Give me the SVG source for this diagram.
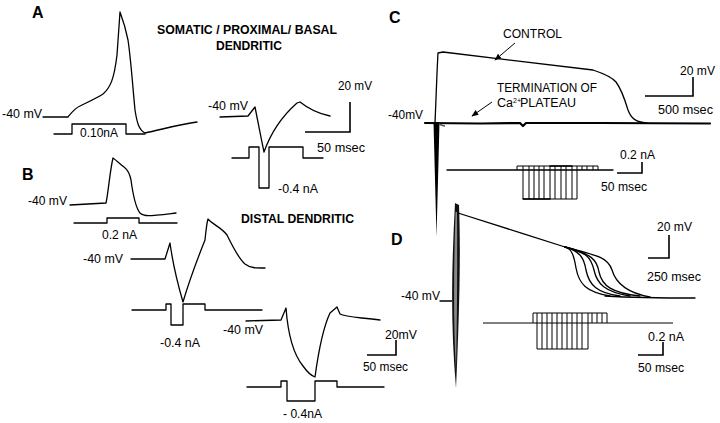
<svg xmlns="http://www.w3.org/2000/svg" width="720" height="423" viewBox="0 0 720 423">
<defs>
<style>
.t{font-family:"Liberation Sans",Arial,sans-serif;font-size:12.5px;fill:#000}
.b{font-weight:bold}
.L{font-size:16px;font-weight:bold}
.tr{fill:none;stroke:#000;stroke-width:1.3;stroke-linejoin:round;stroke-linecap:round}
.sc{fill:none;stroke:#000;stroke-width:1.6}
.th{stroke-width:2.2}
.pr{fill:none;stroke:#000;stroke-width:1}
</style>
<marker id="ah" viewBox="0 0 10 10" refX="9" refY="5" markerWidth="7" markerHeight="7" orient="auto"><path d="M0,1 L10,5 L0,9 Z" fill="#000"/></marker>
</defs>
<rect width="720" height="423" fill="#fff"/>

<g id="titles">
<text class="t L" x="32" y="18">A</text>
<text class="t L" x="22" y="180">B</text>
<text class="t L" x="389" y="23">C</text>
<text class="t L" x="391" y="245">D</text>
<text class="t b" x="157" y="34" textLength="180" lengthAdjust="spacingAndGlyphs">SOMATIC / PROXIMAL/ BASAL</text>
<text class="t b" x="216" y="50" textLength="66" lengthAdjust="spacingAndGlyphs">DENDRITIC</text>
<text class="t b" x="241" y="223" textLength="113" lengthAdjust="spacingAndGlyphs">DISTAL DENDRITIC</text>
</g>

<g id="panelA1">
<text class="t" x="2" y="118" textLength="40" lengthAdjust="spacingAndGlyphs">-40 mV</text>
<path class="tr" d="M43,117 L68,117 C72,112 75,108 80,106 C88,102 97,98 103,94 C110,88 114,80 117,55 L120,12 C123,20 126,30 128,40 C131,60 133,90 135,110 C137,123 139,130 145,133 C160,130 180,124 197,122"/>
<path class="tr" d="M54,134 L72,134 L72,124 L126,124 L126,134 L145,134"/>
<text class="t" x="80" y="137" textLength="38" lengthAdjust="spacingAndGlyphs">0.10nA</text>
</g>

<g id="panelA2">
<text class="t" x="208" y="110" textLength="40" lengthAdjust="spacingAndGlyphs">-40 mV</text>
<path class="tr" d="M220,117 L248,116 L255,107 C258,122 261,138 264,152 C270,135 280,118 297,103 L300,102 C310,110 320,114 330,116"/>
<path class="tr" d="M232,158 L249,158 L249,147 L259,147 L259,188 L269,188 L269,147 L303,147 L303,158 L323,158"/>
<text class="t" x="278" y="193" textLength="40" lengthAdjust="spacingAndGlyphs">-0.4 nA</text>
<path class="sc" d="M305,132 L350,132 L350,102"/>
<text class="t" x="338" y="90" textLength="34" lengthAdjust="spacingAndGlyphs">20 mV</text>
<text class="t" x="317" y="152" textLength="48" lengthAdjust="spacingAndGlyphs">50 msec</text>
</g>

<g id="panelB1">
<text class="t" x="28" y="205" textLength="39" lengthAdjust="spacingAndGlyphs">-40 mV</text>
<path class="tr" d="M70,205 L106,203 C108,195 110,170 113,158 C116,160 120,164 124,167 C128,170 130,175 131,180 C133,195 136,208 140,213 C144,217 150,216 176,213"/>
<path class="tr" d="M74,223 L107,223 L107,218 L139,218 L139,223 L177,223"/>
<text class="t" x="102" y="239" textLength="35" lengthAdjust="spacingAndGlyphs">0.2 nA</text>
</g>

<g id="panelB2">
<text class="t" x="83" y="263" textLength="40" lengthAdjust="spacingAndGlyphs">-40 mV</text>
<path class="tr" d="M131,259 L165,259 L170,243 C173,265 178,285 183,302 C188,285 195,265 205,240 C206,230 207,222 208,219 C212,224 222,228 227,235 C232,245 238,258 245,264 C250,268 256,268 265,268"/>
<path class="tr" d="M132,310 L166,310 L166,304 L171,304 L171,325 L183,325 L183,304 L205,304 L205,310 L262,310"/>
<text class="t" x="160" y="347" textLength="40" lengthAdjust="spacingAndGlyphs">-0.4 nA</text>
</g>

<g id="panelB3">
<text class="t" x="223" y="334" textLength="40" lengthAdjust="spacingAndGlyphs">-40 mV</text>
<path class="tr" d="M246,321 L281,320 L286,308 C288,335 294,355 303,366 C308,373 312,376 315,377 C318,355 322,330 330,313 L337,307 L340,314 C345,317 355,317 380,320"/>
<path class="tr" d="M247,387 L281,387 L281,381 L287,381 L287,401 L315,401 L315,381 L337,381 L337,387 L384,387"/>
<text class="t" x="283" y="418" textLength="39" lengthAdjust="spacingAndGlyphs">- 0.4nA</text>
<path class="sc" d="M367,355 L396,355 L396,340"/>
<text class="t" x="385" y="339" textLength="32" lengthAdjust="spacingAndGlyphs">20mV</text>
<text class="t" x="363" y="371" textLength="45" lengthAdjust="spacingAndGlyphs">50 msec</text>
</g>

<g id="panelC">
<text class="t" x="503" y="38" textLength="59" lengthAdjust="spacingAndGlyphs">CONTROL</text>
<text class="t" x="497" y="92" font-size="11.5" textLength="100" lengthAdjust="spacingAndGlyphs">TERMINATION OF</text>
<text class="t" x="497" y="107" font-size="11.5">Ca<tspan dy="-4" font-size="7">2+</tspan><tspan x="520" dy="4">PLATEAU</tspan></text>
<text class="t" x="388" y="119" textLength="35" lengthAdjust="spacingAndGlyphs">-40mV</text>
<path class="tr th" d="M425,123 L480,123.5 L520,123 L523,126 L526,123 L600,123 L710,123.5"/>
<path class="tr" stroke-width="1.6" d="M435,123 C436,100 437,70 438,53 L443,52 L593,70 C605,74 612,77 616,82 C622,90 625,100 628,110 C631,118 635,122 647,123"/>
<path d="M433.5,122 L436.5,237 L439.5,122 Z" fill="#000"/>
<path d="M439,124 C441,125 443,126 445,126" fill="none" stroke="#555" stroke-width="1.5"/>
<path class="sc" d="M645,96 L693,96 L693,77"/>
<text class="t" x="680" y="75" textLength="35" lengthAdjust="spacingAndGlyphs">20 mV</text>
<text class="t" x="658" y="114" textLength="55" lengthAdjust="spacingAndGlyphs">500 msec</text>
<path class="tr" stroke-width="1.8" d="M447,170 L613,170"/>
<path class="pr" d="M517,170 L517,166 L598,166 M598,166 L598,170 M593,166 L593,170 M587,166 L587,170 M582,166 L582,170"/>
<path class="pr" d="M523,166 L523,199 M529,166 L529,199 M534,166 L534,199 M539,166 L539,199 M544,166 L544,199 M550,166 L550,199 M555,166 L555,199 M561,166 L561,199 M566,166 L566,199 M572,166 L572,199 M577,166 L577,199 M523,199 L577,199"/>
<path class="tr" stroke-width="1.6" d="M523,199 L550,199 M550,166 L572,166"/>
<path class="sc" d="M617,173 L642,173 L642,162"/>
<text class="t" x="620" y="159" textLength="35" lengthAdjust="spacingAndGlyphs">0.2 nA</text>
<text class="t" x="601" y="191" textLength="46" lengthAdjust="spacingAndGlyphs">50 msec</text>
</g>

<g id="panelD">
<text class="t" x="401" y="300" textLength="39" lengthAdjust="spacingAndGlyphs">-40 mV</text>
<path class="tr" d="M440,301 L452,301"/>
<path d="M455,203 C452,260 450,320 456,388 C459,320 461,260 459,205 Z" fill="#111"/>
<path d="M455.5,212 C454,260 453,320 456,370 C457,320 457.5,260 457,212 Z" fill="#888"/>
<path class="tr" stroke-width="3" d="M458,213 C490,223 530,236 565,247"/>
<path class="tr" stroke-width="1.4" d="M565,247 C572,249 574,256 576,268 C579,284 586,292 610,296"/>
<path class="tr" stroke-width="1.4" d="M565,247 C580,251 584,258 586,270 C589,285 597,293 620,296"/>
<path class="tr" stroke-width="1.4" d="M565,247 C588,253 591,258 594,270 C597,284 605,292 630,296"/>
<path class="tr" stroke-width="1.4" d="M565,247 C592,254 597,260 599,272 C602,286 612,293 640,296"/>
<path class="tr" stroke-width="1.4" d="M565,247 C600,256 608,258 612,270 C616,284 628,293 650,297"/>
<path class="tr" stroke-width="2.5" d="M605,296 C640,298 670,298 695,298"/>
<path class="sc" d="M648,258 L669,258 L669,235"/>
<text class="t" x="657" y="231" textLength="35" lengthAdjust="spacingAndGlyphs">20 mV</text>
<text class="t" x="647" y="281" textLength="54" lengthAdjust="spacingAndGlyphs">250 msec</text>
<path class="pr" stroke-width="1.2" d="M483,323 L673,323"/>
<path class="pr" d="M533,323 L533,313 L607,313 M592,313 L592,323 M597,313 L597,323 M602,313 L602,323 M607,313 L607,323"/>
<path class="pr" d="M537,313 L537,349 M542,313 L542,349 M547,313 L547,349 M552,313 L552,349 M557,313 L557,349 M562,313 L562,349 M567,313 L567,349 M572,313 L572,349 M577,313 L577,349 M582,313 L582,349 M588,313 L588,349 M537,349 L588,349"/>
<path class="sc" d="M638,355 L663,355 L663,342"/>
<text class="t" x="648" y="341" textLength="36" lengthAdjust="spacingAndGlyphs">0.2 nA</text>
<text class="t" x="638" y="372" textLength="46" lengthAdjust="spacingAndGlyphs">50 msec</text>
</g>

<g id="connectors">
<path class="pr" stroke-width="1.1" d="M515,43 L495,60" marker-end="url(#ah)"/>
<path class="pr" stroke-width="1.1" d="M492,102 L472,116" marker-end="url(#ah)"/>
</g>
</svg>
